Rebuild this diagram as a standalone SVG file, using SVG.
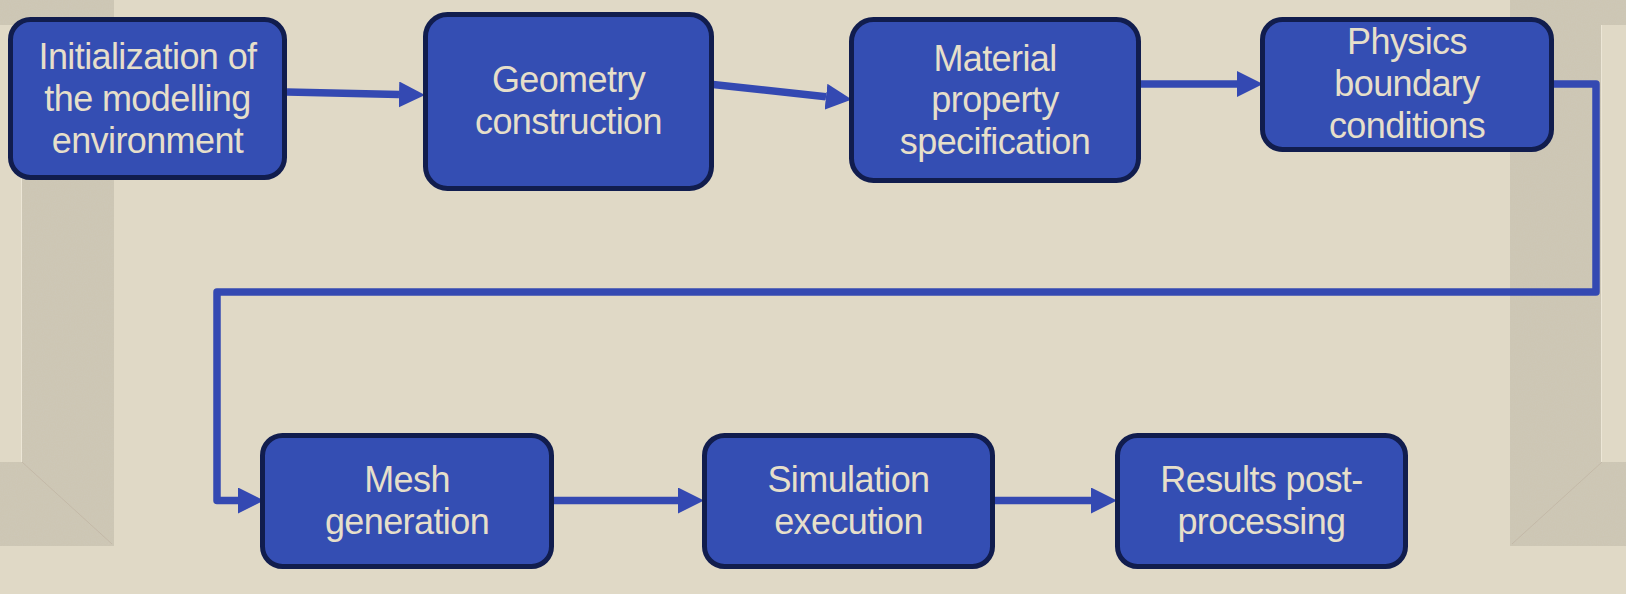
<svg xmlns="http://www.w3.org/2000/svg" width="1626" height="594" viewBox="0 0 1626 594">
  <style>
    .node rect { fill: #344eb3; stroke: #111d4e; stroke-width: 5; }
    .node text { font-family: "Liberation Sans", Arial, sans-serif; font-size: 36px; fill: #e6dfca; text-anchor: middle; letter-spacing: -0.6px; }
    .conn { fill: none; stroke: #3449b2; stroke-width: 7.5; stroke-linejoin: round; }
    .frame { fill: #cdc6b4; }
    .panel { fill: #e0d9c6; }
  </style>
  <defs>
    <marker id="arrow" markerUnits="userSpaceOnUse" markerWidth="26" markerHeight="26" refX="0" refY="12" orient="auto" viewBox="0 0 24 24">
      <polygon points="0,0 24,12 0,24" fill="#3449b2"/>
    </marker>
    <filter id="grain" x="0" y="0" width="100%" height="100%">
      <feTurbulence type="fractalNoise" baseFrequency="0.85" numOctaves="2" seed="4" result="noise"/>
      <feColorMatrix in="noise" type="matrix" values="0 0 0 0 0.62  0 0 0 0 0.59  0 0 0 0 0.52  0.6 0 0 0 -0.2" result="tint"/>
      <feMerge>
        <feMergeNode in="SourceGraphic"/>
        <feMergeNode in="tint"/>
      </feMerge>
    </filter>
  </defs>

  <!-- background -->
  <rect x="0" y="0" width="1626" height="594" fill="#e0d9c6"/>

  <!-- decorative frame -->
  <g id="frame-left">
    <rect class="frame" x="0" y="0" width="114" height="546" filter="url(#grain)"/>
    <rect class="panel" x="0" y="25" width="21" height="437"/>
    <line x1="21.5" y1="25" x2="21.5" y2="462" stroke="#ece6d6" stroke-width="1"/>
    <line x1="22" y1="462" x2="112" y2="544" stroke="#b9a999" stroke-width="0.8" opacity="0.6"/>
  </g>
  <g id="frame-right">
    <rect class="frame" x="1510" y="0" width="116" height="546" filter="url(#grain)"/>
    <rect class="panel" x="1602" y="25" width="24" height="437"/>
    <line x1="1601.5" y1="25" x2="1601.5" y2="462" stroke="#ece6d6" stroke-width="1"/>
    <line x1="1602" y1="462" x2="1512" y2="544" stroke="#b9a999" stroke-width="0.8" opacity="0.6"/>
  </g>

  <!-- connectors -->
  <g id="connectors">
    <path class="conn" d="M287,92 L399,94.5" marker-end="url(#arrow)"/>
    <path class="conn" d="M713,84.5 L826,96.7" marker-end="url(#arrow)"/>
    <path class="conn" d="M1141,84 L1237,84" marker-end="url(#arrow)"/>
    <path class="conn" d="M1551,84 L1596,84 L1596,292 L217,292 L217,500.5 L238,500.5" marker-end="url(#arrow)"/>
    <path class="conn" d="M554,500.5 L678,500.5" marker-end="url(#arrow)"/>
    <path class="conn" d="M994,500.5 L1091,500.5" marker-end="url(#arrow)"/>
  </g>

  <!-- nodes -->
  <g id="node-init" class="node">
    <rect x="10.5" y="19.5" width="274" height="158" rx="20"/>
    <text x="147.5" y="69">Initialization of</text>
    <text x="147.5" y="111">the modelling</text>
    <text x="147.5" y="153">environment</text>
  </g>
  <g id="node-geometry" class="node">
    <rect x="425.5" y="14.5" width="286" height="174" rx="22"/>
    <text x="568.5" y="92">Geometry</text>
    <text x="568.5" y="134">construction</text>
  </g>
  <g id="node-material" class="node">
    <rect x="851.5" y="19.5" width="287" height="161" rx="22"/>
    <text x="995" y="71">Material</text>
    <text x="995" y="112">property</text>
    <text x="995" y="154">specification</text>
  </g>
  <g id="node-physics" class="node">
    <rect x="1262.5" y="19.5" width="289" height="130" rx="20"/>
    <text x="1407" y="54">Physics</text>
    <text x="1407" y="96">boundary</text>
    <text x="1407" y="138">conditions</text>
  </g>
  <g id="node-mesh" class="node">
    <rect x="262.5" y="435.5" width="289" height="131" rx="20"/>
    <text x="407" y="492">Mesh</text>
    <text x="407" y="534">generation</text>
  </g>
  <g id="node-simulation" class="node">
    <rect x="704.5" y="435.5" width="288" height="131" rx="20"/>
    <text x="848.5" y="492">Simulation</text>
    <text x="848.5" y="534">execution</text>
  </g>
  <g id="node-results" class="node">
    <rect x="1117.5" y="435.5" width="288" height="131" rx="20"/>
    <text x="1261.5" y="492">Results post-</text>
    <text x="1261.5" y="534">processing</text>
  </g>
</svg>
